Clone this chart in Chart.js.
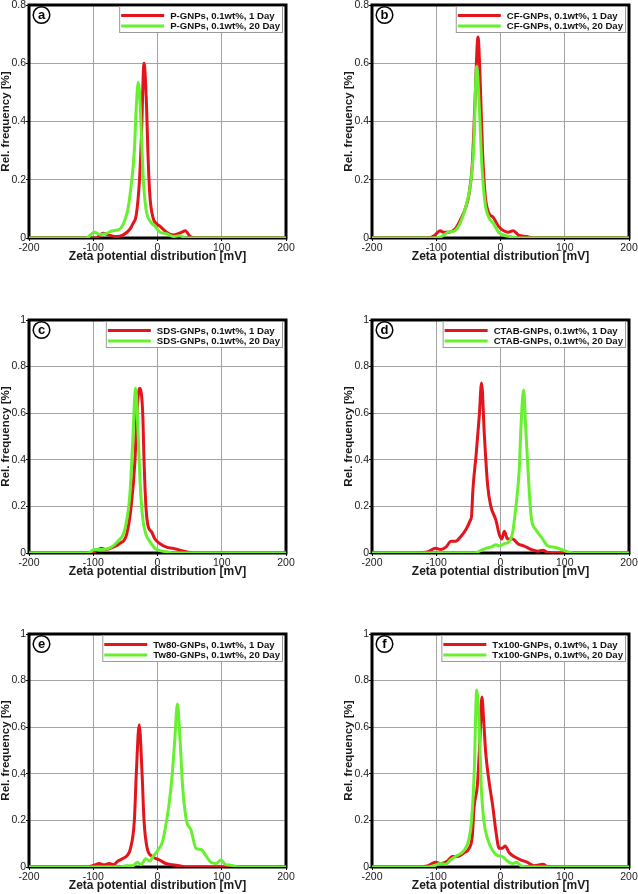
<!DOCTYPE html>
<html>
<head>
<meta charset="utf-8">
<title>Zeta potential distribution</title>
<script src="https://cdn.jsdelivr.net/npm/chart.js@4"></script>
<style>
    html, body { margin: 0; padding: 0; background: #fff; overflow: hidden; }
    body { width: 638px; height: 894px; position: relative; }
    canvas { position: absolute; }
</style>
</head>
<body>
<script>
// Labels
const panelLetters = ['a', 'b', 'c', 'd', 'e', 'f'];
const sampleNames = ['P-GNPs', 'CF-GNPs', 'SDS-GNPs', 'CTAB-GNPs', 'Tw80-GNPs', 'Tx100-GNPs'];
const dayLabels = ['0.1wt%, 1 Day', '0.1wt%, 20 Day'];
const xTicks = [-200, -100, 0, 100, 200];
const yTicksShort = [0, 0.2, 0.4, 0.6, 0.8];
const yTicksLong = [0, 0.2, 0.4, 0.6, 0.8, 1];

// (a) P-GNPs
const pDay1Zeta = [-200, -96, -85, -75, -64, -54, -43, -38, -33, -28, -25, -21, -17, -15, -12, -7, -2, 4, 14, 25, 38, 43, 51, 61, 200];
const pDay1Freq = [0, 0, 0.016, 0.01, 0.005, 0.01, 0.03, 0.05, 0.08, 0.2, 0.35, 0.6, 0.45, 0.3, 0.15, 0.07, 0.05, 0.04, 0.02, 0.01, 0.02, 0.025, 0.005, 0, 0];
const pDay20Zeta = [-200, -111, -98, -90, -80, -70, -59, -51, -46, -41, -36, -33, -30, -28, -25, -22, -18, -12, -4, 4, 14, 25, 35, 43, 200];
const pDay20Freq = [0, 0, 0.02, 0.012, 0.015, 0.025, 0.03, 0.06, 0.1, 0.18, 0.3, 0.45, 0.535, 0.5, 0.35, 0.2, 0.1, 0.06, 0.04, 0.02, 0.015, 0.005, 0.008, 0, 0];

// (b) CF-GNPs
const cfDay1Zeta = [-200, -112, -102, -94, -89, -81, -71, -63, -55, -49, -44, -40, -35, -31, -28, -24, -19, -11, -3, 5, 12, 20, 28, 41, 49, 200];
const cfDay1Freq = [0, 0, 0.01, 0.025, 0.02, 0.02, 0.03, 0.06, 0.1, 0.15, 0.25, 0.45, 0.69, 0.5, 0.3, 0.15, 0.09, 0.07, 0.04, 0.025, 0.02, 0.025, 0.01, 0.005, 0, 0];
const cfDay20Zeta = [-200, -107, -92, -81, -71, -63, -55, -47, -42, -37, -33, -29, -24, -18, -11, -3, 5, 15, 28, 200];
const cfDay20Freq = [0, 0, 0.005, 0.02, 0.025, 0.05, 0.1, 0.18, 0.3, 0.59, 0.45, 0.25, 0.12, 0.07, 0.05, 0.02, 0.01, 0.005, 0, 0];

// (c) SDS-GNPs
const sdsDay1Zeta = [-200, -106, -95, -88, -80, -69, -59, -48, -41, -35, -32, -28, -23, -21, -18, -15, -9, -4, 4, 14, 25, 35, 45, 56, 200];
const sdsDay1Freq = [0, 0, 0.01, 0.02, 0.015, 0.025, 0.04, 0.08, 0.2, 0.4, 0.6, 0.707, 0.6, 0.4, 0.2, 0.12, 0.09, 0.06, 0.04, 0.025, 0.02, 0.012, 0.005, 0, 0];
const sdsDay20Zeta = [-200, -108, -98, -85, -72, -62, -51, -43, -39, -34, -30, -27, -23, -18, -12, -4, 4, 14, 25, 200];
const sdsDay20Freq = [0, 0, 0.015, 0.015, 0.025, 0.05, 0.1, 0.25, 0.45, 0.707, 0.5, 0.3, 0.15, 0.08, 0.05, 0.02, 0.01, 0.005, 0, 0];

// (d) CTAB-GNPs
const ctabDay1Zeta = [-200, -130, -114, -101, -93, -85, -77, -70, -62, -54, -47, -45, -43, -38, -33, -29.5, -25, -20, -15, -7, -2, 2, 6, 11, 19, 27, 37, 48, 58, 66, 74, 84, 200];
const ctabDay1Freq = [0, 0, 0.005, 0.02, 0.015, 0.025, 0.05, 0.05, 0.07, 0.1, 0.14, 0.16, 0.27, 0.42, 0.59, 0.73, 0.5, 0.29, 0.2, 0.14, 0.08, 0.06, 0.093, 0.06, 0.06, 0.04, 0.03, 0.015, 0.008, 0.012, 0.002, 0, 0];
const ctabDay20Zeta = [-200, -41, -31, -23, -15, -7, -2, 6, 14, 19, 24, 29, 32, 36, 39, 44, 48, 55, 63, 74, 84, 95, 105, 115, 200];
const ctabDay20Freq = [0, 0, 0.01, 0.02, 0.025, 0.035, 0.03, 0.04, 0.05, 0.09, 0.2, 0.35, 0.55, 0.7, 0.55, 0.3, 0.15, 0.1, 0.07, 0.03, 0.025, 0.015, 0.005, 0, 0];

// (e) Tw80-GNPs
const tw80Day1Zeta = [-200, -109, -96, -91, -83, -75, -68, -62, -55, -47, -42, -36, -33, -28.5, -24, -21, -16, -8, 3, 13, 23, 34, 44, 200];
const tw80Day1Freq = [0, 0, 0.01, 0.015, 0.01, 0.015, 0.01, 0.025, 0.035, 0.05, 0.08, 0.2, 0.4, 0.61, 0.4, 0.2, 0.08, 0.045, 0.03, 0.015, 0.01, 0.005, 0, 0];
const tw80Day20Zeta = [-200, -60, -49, -39, -31, -26, -18, -12, -7, 0, 8, 13, 18, 23, 27, 31, 35, 39, 45, 52, 60, 68, 75, 83, 91, 99, 106, 114, 127, 200];
const tw80Day20Freq = [0, 0, 0.005, 0.005, 0.02, 0.01, 0.035, 0.025, 0.045, 0.07, 0.11, 0.18, 0.27, 0.4, 0.55, 0.7, 0.55, 0.35, 0.2, 0.16, 0.08, 0.075, 0.05, 0.02, 0.015, 0.03, 0.01, 0.008, 0, 0];

// (f) Tx100-GNPs
const tx100Day1Zeta = [-200, -130, -114, -101, -93, -83, -75, -67, -57, -49, -44, -41, -36, -32, -29, -26, -23, -18, -12, -7, -2, 3, 7, 14, 21, 32, 42, 53, 66, 73, 84, 200];
const tx100Day1Freq = [0, 0, 0.005, 0.02, 0.015, 0.025, 0.045, 0.045, 0.06, 0.08, 0.13, 0.26, 0.35, 0.55, 0.73, 0.62, 0.49, 0.37, 0.26, 0.15, 0.08, 0.08, 0.09, 0.06, 0.045, 0.03, 0.02, 0.005, 0.012, 0.002, 0, 0];
const tx100Day20Zeta = [-200, -114, -104, -93, -85, -78, -67, -57, -49, -45, -41, -37, -33, -30, -26, -20, -12, -5, 3, 11, 19, 25, 32, 42, 200];
const tx100Day20Freq = [0, 0, 0.005, 0.015, 0.012, 0.03, 0.05, 0.07, 0.12, 0.2, 0.4, 0.76, 0.6, 0.35, 0.2, 0.12, 0.07, 0.05, 0.045, 0.025, 0.015, 0.02, 0.005, 0, 0];

const day1Zeta = [pDay1Zeta, cfDay1Zeta, sdsDay1Zeta, ctabDay1Zeta, tw80Day1Zeta, tx100Day1Zeta];
const day1Freq = [pDay1Freq, cfDay1Freq, sdsDay1Freq, ctabDay1Freq, tw80Day1Freq, tx100Day1Freq];
const day20Zeta = [pDay20Zeta, cfDay20Zeta, sdsDay20Zeta, ctabDay20Zeta, tw80Day20Zeta, tx100Day20Zeta];
const day20Freq = [pDay20Freq, cfDay20Freq, sdsDay20Freq, ctabDay20Freq, tw80Day20Freq, tx100Day20Freq];

// Layout: plot area [left, top, right, bottom] for each panel
const plotRects = [
    [29, 5, 286, 238], [372, 5, 629, 238],
    [29, 320, 286, 553], [372, 320, 629, 553],
    [29, 634, 286, 867], [372, 634, 629, 867]
];

const fontFamily = '"Liberation Sans", Arial, Helvetica, sans-serif';
const red = '#e3141b';
const green = '#66f030';

// Frame, legend box and panel letter
const panelDecor = {
    id: 'panelDecor',
    beforeDatasetsDraw(chart) {
        const { ctx, chartArea: a } = chart;
        ctx.save();
        ctx.strokeStyle = '#000';
        ctx.lineWidth = 3;
        ctx.strokeRect(a.left, a.top, a.right - a.left, a.bottom - a.top);
        ctx.restore();
    },
    afterDatasetsDraw(chart, args, opts) {
        const { ctx, chartArea: a } = chart;
        ctx.save();

        // legend
        ctx.font = 'bold 9.6px ' + fontFamily;
        const names = opts.names;
        const tw = Math.max(...names.map(n => ctx.measureText(n).width));
        const boxW = 2 + 43 + 6 + tw + 3;
        const boxH = 27;
        const boxR = a.right - 3;
        const boxT = a.top + 1;
        const boxL = boxR - boxW;
        ctx.fillStyle = '#fff';
        ctx.fillRect(boxL, boxT, boxW, boxH);
        ctx.strokeStyle = '#9a9a9a';
        ctx.lineWidth = 1;
        ctx.strokeRect(boxL + 0.5, boxT + 0.5, boxW - 1, boxH - 1);
        [red, green].forEach((c, k) => {
            const y = boxT + 9.5 + k * 10.5;
            ctx.strokeStyle = c;
            ctx.lineWidth = 3;
            ctx.beginPath();
            ctx.moveTo(boxL + 2, y);
            ctx.lineTo(boxL + 45, y);
            ctx.stroke();
            ctx.fillStyle = '#111';
            ctx.textAlign = 'left';
            ctx.textBaseline = 'middle';
            ctx.fillText(names[k], boxL + 51, y + 0.5);
        });

        // panel letter in a circle
        const cx = a.left + 12.5, cy = a.top + 10;
        ctx.fillStyle = '#fff';
        ctx.strokeStyle = '#000';
        ctx.lineWidth = 1.5;
        ctx.beginPath();
        ctx.arc(cx, cy, 8.3, 0, Math.PI * 2);
        ctx.fill();
        ctx.stroke();
        ctx.fillStyle = '#000';
        ctx.font = 'bold 13px ' + fontFamily;
        ctx.textAlign = 'center';
        ctx.textBaseline = 'middle';
        ctx.fillText(opts.letter, cx, cy + 0.5);
        ctx.restore();
    }
};

function toPoints(xs, ys) {
    return xs.map((x, i) => ({ x: x, y: ys[i] }));
}

function makePanel(i) {
    const [L, T, R, B] = plotRects[i];
    const yAxisW = 29, xAxisH = 26;
    const padTop = 12, padRight = 14, padBottom = 8;
    const cl = L - yAxisW, ct = T - padTop;
    const cw = R + padRight - cl, ch = B + xAxisH + padBottom - ct;

    const canvas = document.createElement('canvas');
    canvas.width = cw;
    canvas.height = ch;
    canvas.style.left = cl + 'px';
    canvas.style.top = ct + 'px';
    canvas.style.width = cw + 'px';
    canvas.style.height = ch + 'px';
    document.body.appendChild(canvas);

    const yTicks = i < 2 ? yTicksShort : yTicksLong;
    const names = dayLabels.map(d => sampleNames[i] + ', ' + d);

    new Chart(canvas, {
        type: 'line',
        data: {
            datasets: [{
                label: names[0],
                data: toPoints(day1Zeta[i], day1Freq[i]),
                borderColor: red,
                borderWidth: 3,
                order: 1
            }, {
                label: names[1],
                data: toPoints(day20Zeta[i], day20Freq[i]),
                borderColor: green,
                borderWidth: 3,
                order: 0
            }]
        },
        options: {
            responsive: false,
            animation: false,
            parsing: false,
            layout: { padding: { left: 0, top: padTop, right: padRight, bottom: padBottom } },
            elements: {
                point: { radius: 0 },
                line: { cubicInterpolationMode: 'monotone', fill: false }
            },
            plugins: {
                legend: { display: false },
                tooltip: { enabled: false },
                panelDecor: { names: names, letter: panelLetters[i] }
            },
            scales: {
                x: {
                    type: 'linear',
                    min: -200,
                    max: 200,
                    afterBuildTicks: s => { s.ticks = xTicks.map(v => ({ value: v })); },
                    afterFit: s => { s.height = xAxisH; },
                    border: { display: false },
                    grid: { color: '#a3a3a3', lineWidth: 1, tickLength: 3, tickColor: '#000' },
                    ticks: {
                        color: '#1a1a1a',
                        font: { size: 10.5, family: fontFamily },
                        padding: 1,
                        maxRotation: 0,
                        autoSkip: false,
                        callback: v => String(v)
                    },
                    title: {
                        display: true,
                        text: 'Zeta potential distribution [mV]',
                        color: '#1a1a1a',
                        font: { size: 12, weight: 'bold', family: fontFamily, lineHeight: 1.2 },
                        padding: 0
                    }
                },
                y: {
                    type: 'linear',
                    min: 0,
                    max: yTicks[yTicks.length - 1],
                    afterBuildTicks: s => { s.ticks = yTicks.map(v => ({ value: v })); },
                    afterFit: s => { s.width = yAxisW; },
                    border: { display: false },
                    grid: { color: '#a3a3a3', lineWidth: 1, tickLength: 3, tickColor: '#000' },
                    ticks: {
                        color: '#1a1a1a',
                        font: { size: 10.5, family: fontFamily },
                        padding: 0,
                        autoSkip: false,
                        callback: v => String(v)
                    },
                    title: {
                        display: true,
                        text: 'Rel. frequency [%]',
                        color: '#1a1a1a',
                        font: { size: 11.5, weight: 'bold', family: fontFamily, lineHeight: 1 },
                        padding: 0
                    }
                }
            }
        },
        plugins: [panelDecor]
    });
}

panelLetters.forEach((_, i) => makePanel(i));
</script>
</body>
</html>
